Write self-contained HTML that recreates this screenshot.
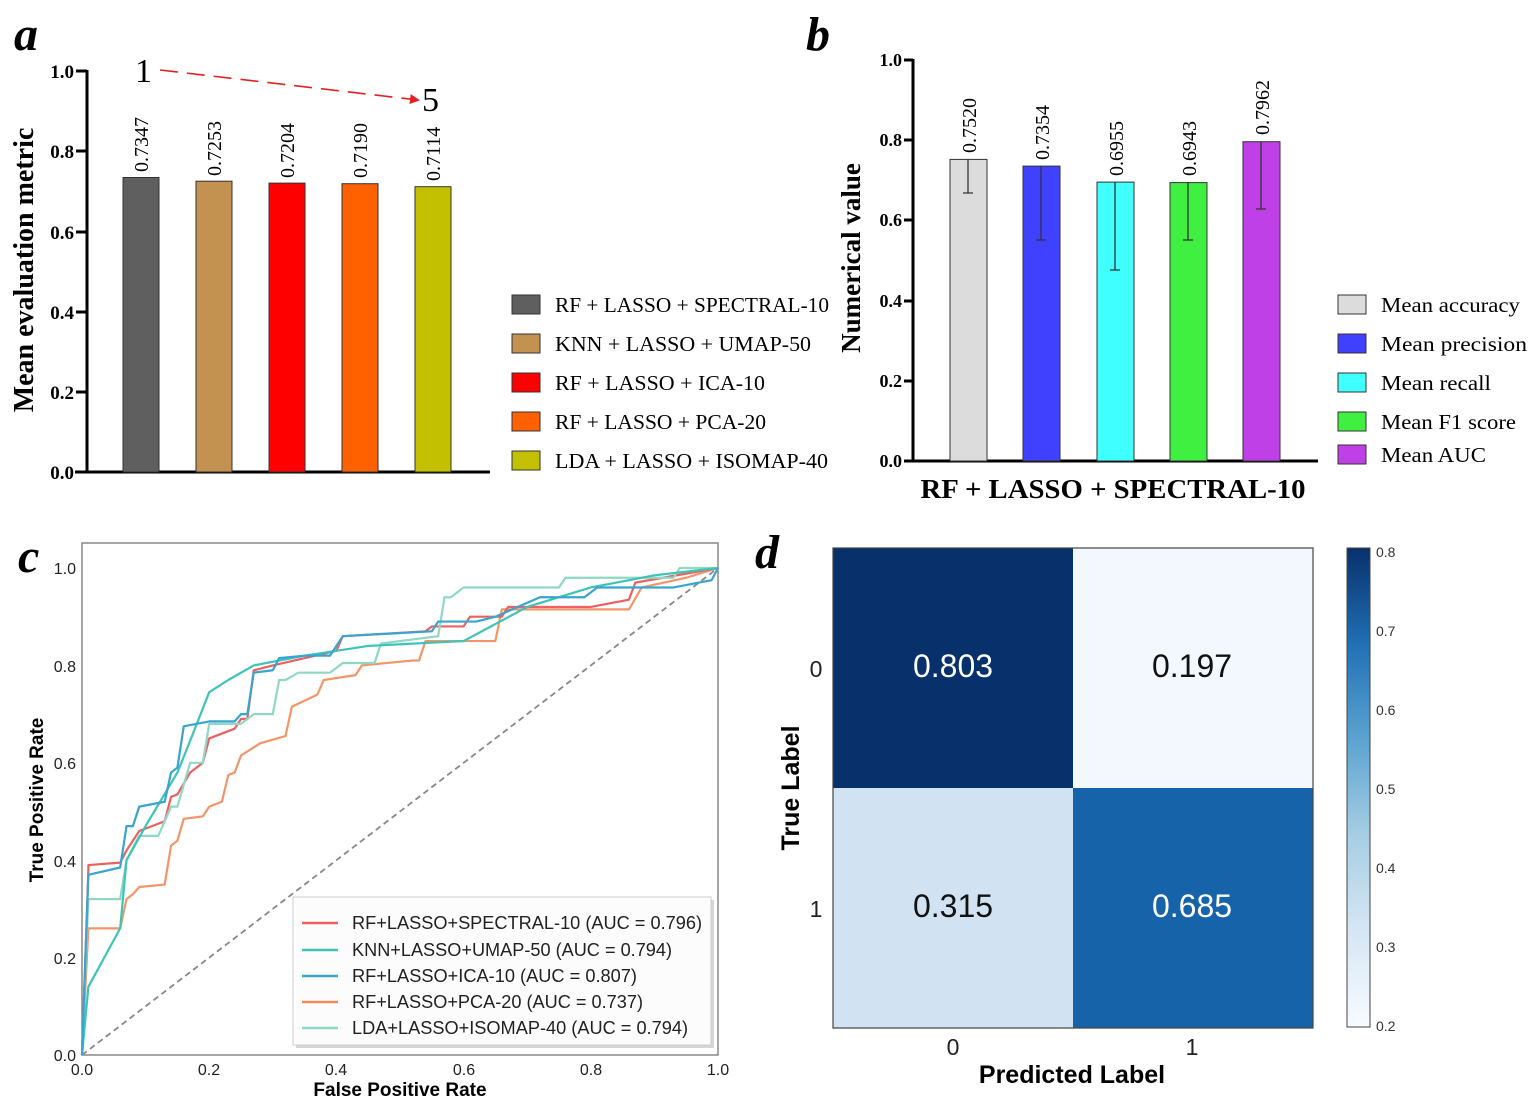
<!DOCTYPE html>
<html><head><meta charset="utf-8"><style>
html,body{margin:0;padding:0;background:#fff;}
svg{display:block;}
.serif{font-family:"Liberation Serif",serif;}
.sans{font-family:"Liberation Sans",sans-serif;}
</style></head><body>
<svg width="1535" height="1107" viewBox="0 0 1535 1107" xmlns="http://www.w3.org/2000/svg">
<defs>
<marker id="arr" markerWidth="10" markerHeight="10" refX="8" refY="5" orient="auto" markerUnits="userSpaceOnUse"><path d="M0,0 L10,5 L0,10 z" fill="#e52020"/></marker>
<linearGradient id="cb" x1="0" y1="1" x2="0" y2="0">
<stop offset="0" stop-color="#f7fbff"/><stop offset="0.2" stop-color="#d6e6f4"/><stop offset="0.4" stop-color="#a6cee4"/><stop offset="0.6" stop-color="#5ba3d0"/><stop offset="0.8" stop-color="#2070b4"/><stop offset="1" stop-color="#08306b"/>
</linearGradient>
</defs>

<!-- Panel a -->
<text x="14" y="50" class="serif" font-size="48" font-weight="bold" font-style="italic">a</text>
<g class="serif" font-size="19" font-weight="bold" text-anchor="end">
<text x="74" y="78">1.0</text><text x="74" y="158">0.8</text><text x="74" y="239">0.6</text><text x="74" y="319">0.4</text><text x="74" y="399">0.2</text><text x="74" y="479">0.0</text>
</g>
<g stroke="#000" stroke-width="3">
<line x1="87" y1="70" x2="87" y2="473"/><line x1="75" y1="472" x2="490" y2="472"/>
<line x1="76" y1="71" x2="87" y2="71"/><line x1="76" y1="151" x2="87" y2="151"/><line x1="76" y1="232" x2="87" y2="232"/><line x1="76" y1="312" x2="87" y2="312"/><line x1="76" y1="392" x2="87" y2="392"/>
</g>
<text transform="translate(33,270) rotate(-90)" class="serif" font-size="28" font-weight="bold" text-anchor="middle">Mean evaluation metric</text>
<g stroke="#333" stroke-width="1">
<rect x="123" y="177.5" width="36" height="294.5" fill="#5f5f5f"/>
<rect x="196" y="181.2" width="36" height="290.8" fill="#c49250"/>
<rect x="269" y="183.1" width="36" height="288.9" fill="#ff0000"/>
<rect x="342" y="183.7" width="36" height="288.3" fill="#ff6000"/>
<rect x="415" y="186.7" width="36" height="285.3" fill="#c2c000"/>
</g>
<g class="serif" font-size="20">
<text transform="translate(148,172) rotate(-90)">0.7347</text>
<text transform="translate(221,176) rotate(-90)">0.7253</text>
<text transform="translate(294,178) rotate(-90)">0.7204</text>
<text transform="translate(367,178) rotate(-90)">0.7190</text>
<text transform="translate(440,181) rotate(-90)">0.7114</text>
</g>
<text x="135" y="82" class="serif" font-size="34">1</text>
<text x="422" y="111" class="serif" font-size="34">5</text>
<line x1="160" y1="70" x2="418" y2="100" stroke="#e52020" stroke-width="1.6" stroke-dasharray="18,9" marker-end="url(#arr)"/>
<g stroke="#333" stroke-width="1">
<rect x="512" y="295" width="28" height="19" fill="#5f5f5f"/>
<rect x="512" y="334" width="28" height="19" fill="#c49250"/>
<rect x="512" y="373" width="28" height="19" fill="#ff0000"/>
<rect x="512" y="412" width="28" height="19" fill="#ff6000"/>
<rect x="512" y="451" width="28" height="19" fill="#c2c000"/>
</g>
<g class="serif" font-size="21">
<text x="555" y="312" textLength="274" lengthAdjust="spacingAndGlyphs">RF + LASSO + SPECTRAL-10</text>
<text x="555" y="351" textLength="256" lengthAdjust="spacingAndGlyphs">KNN + LASSO + UMAP-50</text>
<text x="555" y="390" textLength="210" lengthAdjust="spacingAndGlyphs">RF + LASSO + ICA-10</text>
<text x="555" y="429" textLength="211" lengthAdjust="spacingAndGlyphs">RF + LASSO + PCA-20</text>
<text x="555" y="468" textLength="273" lengthAdjust="spacingAndGlyphs">LDA + LASSO + ISOMAP-40</text>
</g>

<!-- Panel b -->
<text x="806" y="50" class="serif" font-size="48" font-weight="bold" font-style="italic">b</text>
<g class="serif" font-size="18" font-weight="bold" text-anchor="end">
<text x="902" y="66">1.0</text><text x="902" y="146">0.8</text><text x="902" y="226">0.6</text><text x="902" y="307">0.4</text><text x="902" y="387">0.2</text><text x="902" y="467">0.0</text>
</g>
<g stroke="#000" stroke-width="3">
<line x1="913" y1="59" x2="913" y2="462"/><line x1="904" y1="461" x2="1318" y2="461"/>
<line x1="904" y1="60" x2="913" y2="60"/><line x1="904" y1="140" x2="913" y2="140"/><line x1="904" y1="220" x2="913" y2="220"/><line x1="904" y1="301" x2="913" y2="301"/><line x1="904" y1="381" x2="913" y2="381"/>
</g>
<text transform="translate(860,258) rotate(-90)" class="serif" font-size="27" font-weight="bold" text-anchor="middle">Numerical value</text>
<g stroke="#333" stroke-width="1">
<rect x="950" y="159.4" width="37" height="301.6" fill="#dcdcdc"/>
<rect x="1023" y="166.1" width="37" height="294.9" fill="#4040ff"/>
<rect x="1097" y="182.1" width="37" height="278.9" fill="#40ffff"/>
<rect x="1170" y="182.6" width="37" height="278.4" fill="#40f040"/>
<rect x="1243" y="141.7" width="37" height="319.3" fill="#c040e8"/>
</g>
<g stroke="#333" stroke-width="1.3" fill="none">
<path d="M968,159 V193 M963,193 H973"/>
<path d="M1041,166 V240 M1036,240 H1046"/>
<path d="M1115,182 V270 M1110,270 H1120"/>
<path d="M1188,182 V240 M1183,240 H1193"/>
<path d="M1261,142 V209 M1256,209 H1266"/>
</g>
<g class="serif" font-size="20">
<text transform="translate(976,153) rotate(-90)">0.7520</text>
<text transform="translate(1049,160) rotate(-90)">0.7354</text>
<text transform="translate(1123,176) rotate(-90)">0.6955</text>
<text transform="translate(1196,176) rotate(-90)">0.6943</text>
<text transform="translate(1269,135) rotate(-90)">0.7962</text>
</g>
<text x="1113" y="498" class="serif" font-size="27" font-weight="bold" text-anchor="middle" textLength="385" lengthAdjust="spacingAndGlyphs">RF + LASSO + SPECTRAL-10</text>
<g stroke="#333" stroke-width="1">
<rect x="1338" y="295" width="28" height="19" fill="#dcdcdc"/>
<rect x="1338" y="334" width="28" height="19" fill="#4040ff"/>
<rect x="1338" y="373" width="28" height="19" fill="#40ffff"/>
<rect x="1338" y="412" width="28" height="19" fill="#40f040"/>
<rect x="1338" y="445" width="28" height="19" fill="#c040e8"/>
</g>
<g class="serif" font-size="21">
<text x="1381" y="312" textLength="139" lengthAdjust="spacingAndGlyphs">Mean accuracy</text>
<text x="1381" y="351" textLength="146" lengthAdjust="spacingAndGlyphs">Mean precision</text>
<text x="1381" y="390" textLength="110" lengthAdjust="spacingAndGlyphs">Mean recall</text>
<text x="1381" y="429" textLength="135" lengthAdjust="spacingAndGlyphs">Mean F1 score</text>
<text x="1381" y="462" textLength="105" lengthAdjust="spacingAndGlyphs">Mean AUC</text>
</g>

<!-- Panel c -->
<text x="18" y="572" class="serif" font-size="48" font-weight="bold" font-style="italic">c</text>
<rect x="82" y="543" width="636" height="512" fill="none" stroke="#888" stroke-width="1.5"/>
<g class="sans" font-size="16" fill="#222" text-anchor="end">
<text x="76" y="574">1.0</text><text x="76" y="672">0.8</text><text x="76" y="769">0.6</text><text x="76" y="867">0.4</text><text x="76" y="964">0.2</text><text x="76" y="1061">0.0</text>
</g>
<g class="sans" font-size="16" fill="#222" text-anchor="middle">
<text x="82" y="1075">0.0</text><text x="209" y="1075">0.2</text><text x="336" y="1075">0.4</text><text x="464" y="1075">0.6</text><text x="591" y="1075">0.8</text><text x="718" y="1075">1.0</text>
</g>
<text x="400" y="1096" class="sans" font-size="19" font-weight="bold" text-anchor="middle">False Positive Rate</text>
<text transform="translate(43,800) rotate(-90)" class="sans" font-size="19" font-weight="bold" text-anchor="middle">True Positive Rate</text>
<line x1="82" y1="1055" x2="718" y2="568" stroke="#888" stroke-width="1.8" stroke-dasharray="6,4"/>
<g transform="translate(82,1055) scale(636,-487)" fill="none" stroke-width="2.2" stroke-linejoin="round">
<polyline vector-effect="non-scaling-stroke" stroke="#f28a58" stroke-opacity="0.9" points="0,0 0.01,0.26 0.06,0.26 0.07,0.32 0.08,0.33 0.09,0.345 0.13,0.35 0.14,0.43 0.15,0.44 0.16,0.485 0.19,0.49 0.2,0.51 0.22,0.52 0.23,0.575 0.24,0.58 0.25,0.615 0.28,0.64 0.32,0.655 0.33,0.715 0.37,0.74 0.38,0.77 0.43,0.78 0.44,0.8 0.52,0.81 0.53,0.81 0.54,0.85 0.65,0.85 0.66,0.915 0.86,0.915 0.88,0.96 0.95,0.98 1,1"/>
<polyline vector-effect="non-scaling-stroke" stroke="#ee6060" points="0,0 0.01,0.38 0.01,0.39 0.06,0.395 0.07,0.42 0.09,0.46 0.13,0.48 0.14,0.53 0.15,0.535 0.17,0.58 0.19,0.6 0.2,0.65 0.24,0.67 0.25,0.69 0.26,0.69 0.27,0.79 0.3,0.8 0.4,0.83 0.41,0.86 0.54,0.87 0.55,0.88 0.6,0.88 0.61,0.9 0.66,0.9 0.67,0.92 0.8,0.92 0.86,0.935 0.87,0.97 1,1"/>
<polyline vector-effect="non-scaling-stroke" stroke="#8fd8c4" points="0,0 0.01,0.32 0.06,0.32 0.07,0.4 0.09,0.45 0.12,0.45 0.14,0.51 0.15,0.51 0.17,0.6 0.19,0.6 0.2,0.68 0.25,0.68 0.27,0.7 0.3,0.7 0.31,0.77 0.32,0.77 0.34,0.785 0.39,0.785 0.41,0.805 0.46,0.805 0.47,0.845 0.56,0.86 0.57,0.94 0.58,0.94 0.6,0.96 0.75,0.96 0.76,0.98 0.93,0.98 0.94,1 1,1"/>
<polyline vector-effect="non-scaling-stroke" stroke="#3cc4b8" points="0,0 0.01,0.14 0.06,0.26 0.07,0.4 0.1,0.47 0.15,0.58 0.17,0.645 0.2,0.745 0.23,0.77 0.27,0.8 0.35,0.82 0.45,0.84 0.6,0.85 0.7,0.92 0.8,0.96 0.9,0.985 1,1"/>
<polyline vector-effect="non-scaling-stroke" stroke="#38a4d0" points="0,0 0.01,0.37 0.06,0.385 0.07,0.47 0.08,0.47 0.09,0.51 0.13,0.52 0.14,0.58 0.15,0.59 0.16,0.675 0.2,0.685 0.24,0.685 0.25,0.7 0.26,0.7 0.27,0.785 0.3,0.79 0.31,0.815 0.35,0.82 0.39,0.82 0.41,0.86 0.55,0.87 0.56,0.89 0.62,0.89 0.65,0.9 0.72,0.94 0.79,0.94 0.81,0.96 0.93,0.96 0.99,0.975 1,1"/>
</g>
<rect x="296" y="900" width="418" height="148" fill="#bbb" opacity="0.6"/>
<rect x="293" y="897" width="418" height="148" fill="#fff" fill-opacity="0.92" stroke="#ccc" stroke-width="1"/>
<g stroke-width="2.5">
<line x1="302" y1="923" x2="338" y2="923" stroke="#ee6060"/>
<line x1="302" y1="950" x2="338" y2="950" stroke="#3cc4b8"/>
<line x1="302" y1="976" x2="338" y2="976" stroke="#38a4d0"/>
<line x1="302" y1="1002" x2="338" y2="1002" stroke="#f28a58"/>
<line x1="302" y1="1028" x2="338" y2="1028" stroke="#8fd8c4"/>
</g>
<g class="sans" font-size="18" fill="#222">
<text x="352" y="929" textLength="350" lengthAdjust="spacingAndGlyphs">RF+LASSO+SPECTRAL-10 (AUC = 0.796)</text>
<text x="352" y="956" textLength="320" lengthAdjust="spacingAndGlyphs">KNN+LASSO+UMAP-50 (AUC = 0.794)</text>
<text x="352" y="982" textLength="285" lengthAdjust="spacingAndGlyphs">RF+LASSO+ICA-10 (AUC = 0.807)</text>
<text x="352" y="1008" textLength="291" lengthAdjust="spacingAndGlyphs">RF+LASSO+PCA-20 (AUC = 0.737)</text>
<text x="352" y="1034" textLength="336" lengthAdjust="spacingAndGlyphs">LDA+LASSO+ISOMAP-40 (AUC = 0.794)</text>
</g>

<!-- Panel d -->
<text x="755" y="568" class="serif" font-size="48" font-weight="bold" font-style="italic">d</text>
<rect x="833" y="548" width="240" height="240" fill="#08306b"/>
<rect x="1073" y="548" width="240" height="240" fill="#f3f8fe"/>
<rect x="833" y="788" width="240" height="240" fill="#d1e2f2"/>
<rect x="1073" y="788" width="240" height="240" fill="#1763aa"/>
<rect x="833" y="548" width="480" height="480" fill="none" stroke="#444" stroke-width="1.2"/>
<g class="sans" font-size="32" text-anchor="middle">
<text x="953" y="677" fill="#fff">0.803</text>
<text x="1192" y="677" fill="#111">0.197</text>
<text x="953" y="917" fill="#111">0.315</text>
<text x="1192" y="917" fill="#fff">0.685</text>
</g>
<g class="sans" font-size="23" fill="#222" text-anchor="middle">
<text x="816" y="677">0</text><text x="816" y="917">1</text>
<text x="953" y="1055">0</text><text x="1192" y="1055">1</text>
</g>
<text x="1072" y="1083" class="sans" font-size="25" font-weight="bold" text-anchor="middle">Predicted Label</text>
<text transform="translate(799,788) rotate(-90)" class="sans" font-size="25" font-weight="bold" text-anchor="middle">True Label</text>
<rect x="1347" y="548" width="23" height="479" fill="url(#cb)" stroke="#444" stroke-width="1"/>
<g class="sans" font-size="14" fill="#333">
<text x="1376" y="557">0.8</text><text x="1376" y="636">0.7</text><text x="1376" y="715">0.6</text><text x="1376" y="794">0.5</text><text x="1376" y="873">0.4</text><text x="1376" y="952">0.3</text><text x="1376" y="1031">0.2</text>
</g>
</svg>
</body></html>
